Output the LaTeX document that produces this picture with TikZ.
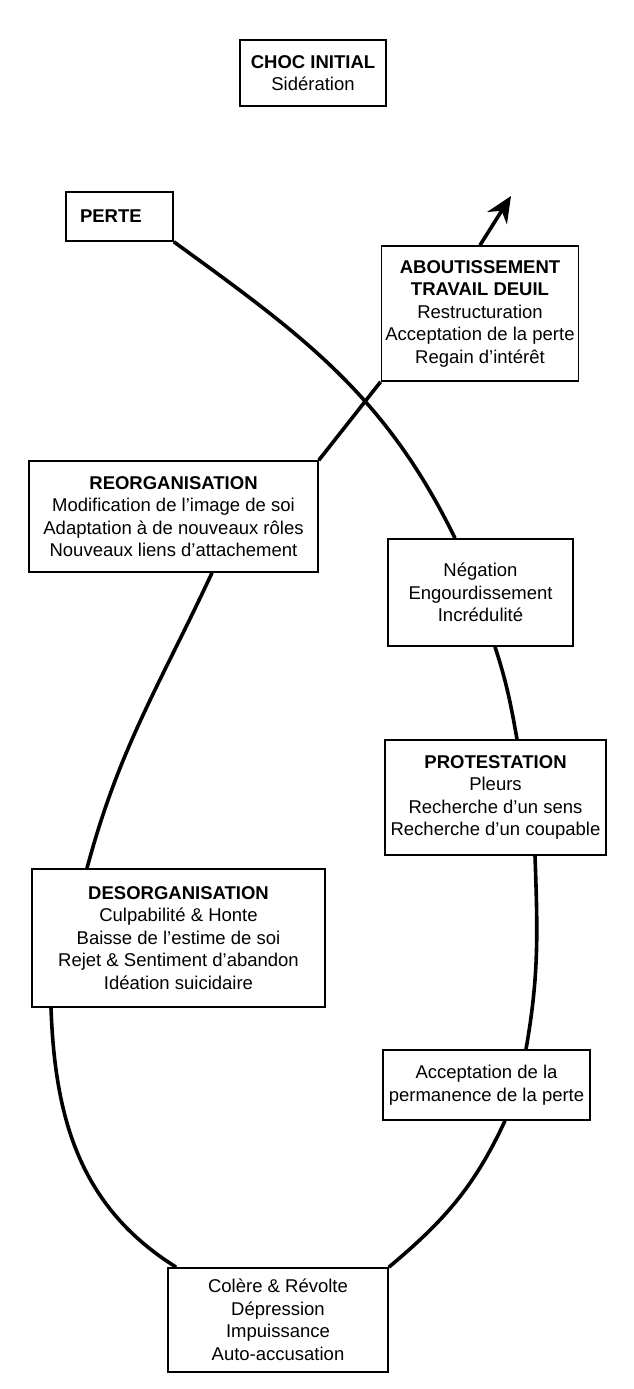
\documentclass[tikz,border=0pt]{standalone}
\usepackage{fontspec}
\setmainfont{Liberation Sans}
\usetikzlibrary{arrows.meta}
\tikzset{
  box/.style={draw=black, line width=1.6pt, fill=white, align=center,
    inner xsep=4pt, inner ysep=3pt,
    font=\fontsize{18.5}{22.5}\selectfont},
  link/.style={draw=black, line width=3.6pt},
}
\begin{document}
\begin{tikzpicture}[x=1pt, y=-1pt]
\useasboundingbox (0,0) rectangle (634,1389);
% boxes
\node[box, minimum width=146pt, minimum height=66pt] (choc) at (313,73)
  {\textbf{CHOC INITIAL}\\Sidération};
\node[box, minimum width=107pt, minimum height=49pt, text width=79pt, align=left, inner xsep=14pt] (perte) at (119.5,216.5)
  {\textbf{PERTE}};
\node[box, minimum width=194pt, minimum height=135pt] (about) at (480,313.5)
  {\textbf{ABOUTISSEMENT}\\\textbf{TRAVAIL DEUIL}\\Restructuration\\Acceptation de la perte\\Regain d’intérêt};
\node[box, minimum width=289pt, minimum height=111pt] (reorg) at (173.5,516.5)
  {\textbf{REORGANISATION}\\Modification de l’image de soi\\Adaptation à de nouveaux rôles\\Nouveaux liens d’attachement};
\node[box, minimum width=185pt, minimum height=107pt] (neg) at (480.5,592.5)
  {Négation\\Engourdissement\\Incrédulité};
\node[box, minimum width=221pt, minimum height=115pt] (prot) at (495.5,797.5)
  {\textbf{PROTESTATION}\\Pleurs\\Recherche d’un sens\\Recherche d’un coupable};
\node[box, minimum width=293pt, minimum height=138pt] (desorg) at (178.5,938)
  {\textbf{DESORGANISATION}\\Culpabilité \& Honte\\Baisse de l’estime de soi\\Rejet \& Sentiment d’abandon\\Idéation suicidaire};
\node[box, minimum width=207pt, minimum height=70pt] (accept) at (486.5,1085)
  {Acceptation de la\\permanence de la perte};
\node[box, minimum width=220pt, minimum height=104pt] (bottom) at (278,1320)
  {Colère \& Révolte\\Dépression\\Impuissance\\Auto-accusation};
\coordinate (tip) at (511,196);
% connectors
\draw[link] (perte.south east) to[out=-36, in=116] ([xshift=-25.5pt]neg.north);
\draw[link] ([xshift=14.5pt]neg.south) to[out=-72, in=100] ([xshift=21.5pt]prot.north);
\draw[link] ([xshift=39.5pt]prot.south) to[out=-88, in=80] ([xshift=39.5pt]accept.north);
\draw[link] ([xshift=18.5pt]accept.south) to[out=-115, in=40] (bottom.north east);
\draw[link] ([xshift=-127.5pt]desorg.south) to[out=-88, in=148] ([xshift=9pt]bottom.north west);
\draw[link] ([xshift=38.5pt]reorg.south) to[out=-115, in=75] ([xshift=-91.5pt]desorg.north);
\draw[link] (reorg.north east) -- (about.south west);
\draw[link, -{Stealth[length=26pt, width=23pt]}] (about.north) -- (tip);
\end{tikzpicture}
\end{document}
